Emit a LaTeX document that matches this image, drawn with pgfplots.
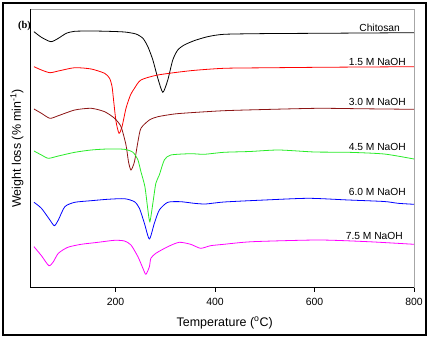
\documentclass[border=0pt]{standalone}
\usepackage{pgfplots}
\pgfplotsset{compat=1.18}
\usepackage{fontspec}
\setmainfont{Liberation Sans}
\newfontfamily\timesfont{Liberation Serif}
\definecolor{brownred}{RGB}{140,20,20}
\definecolor{lgreen}{RGB}{40,235,40}
\definecolor{mag}{RGB}{255,0,255}
\begin{document}
\begin{tikzpicture}
\begin{axis}[
  at={(0,0)}, anchor=south west,
  scale only axis, width=384bp, height=278.7bp,
  xmin=28, xmax=800, ymin=-287.7, ymax=-9,
  axis line style={draw=gray!70, line width=0.6bp},
  xtick={200,400,600,800}, ytick=\empty,
  tick align=outside, xtick pos=bottom,
  major tick length=4bp,
  tick style={black, line width=0.6bp},
  xticklabel style={font=\fontsize{10.5}{12}\selectfont, yshift=-3bp},
  /pgf/number format/assume math mode=true,
  xlabel={Temperature (\textsuperscript{o}C)},
  ylabel={Weight loss (\% min\textsuperscript{-1})},
  every axis x label/.style={at={(axis description cs:0.507,-0.127)}, anchor=center, font=\fontsize{12.5}{14}\selectfont},
  every axis y label/.style={at={(axis description cs:-0.034,0.5)}, rotate=90, anchor=center, font=\fontsize{12.5}{14}\selectfont},
  clip=false,
  every axis plot/.append style={line width=0.8bp, smooth, tension=0.4},
]
% Chitosan
\addplot[black] coordinates {
(36,-31.7)(51,-37.3)(70,-41.7)(85,-38.3)(101,-33.3)(118,-31.3)(151,-31)(184,-31.3)(218,-32)(241,-34)(255,-38.3)(265,-46.7)(275,-60)(285,-78.3)(295,-92.3)(305,-80)(315,-60)(325,-50)(338,-45)(358,-40.7)(385,-36.7)(418,-34.3)(500,-33.6)(608,-33.3)(700,-33)(800,-32.7)};
% 1.5 M
\addplot[red] coordinates {
(36,-66.7)(51,-70)(68,-72.7)(85,-71)(118,-67.7)(151,-69)(178,-73.3)(188,-78.3)(193,-86.7)(196,-100)(201,-121.7)(207,-133.3)(213,-126.7)(221,-108.3)(230,-95)(238,-88.3)(251,-80)(285,-75)(351,-70.7)(418,-68.3)(500,-67.8)(608,-67.3)(700,-67)(800,-66.7)};
% 3.0 M
\addplot[brownred] coordinates {
(36,-109)(51,-113.3)(68,-118.3)(85,-115.7)(118,-110)(151,-108.3)(178,-111.7)(198,-118.3)(211,-126.7)(221,-145)(226,-161.7)(231,-170)(238,-161.7)(245,-141.7)(251,-128.3)(268,-120)(285,-116.7)(318,-114)(351,-112.7)(418,-110.7)(500,-109.5)(608,-108.3)(700,-108.8)(800,-109.3)};
% 4.5 M
\addplot[lgreen] coordinates {
(36,-151)(51,-155)(65,-158.3)(85,-156)(118,-152.3)(151,-150)(184,-149)(218,-149.3)(235,-152.3)(245,-160)(251,-171.7)(259,-186.7)(265,-210)(269,-221.7)(275,-203.3)(281,-183.3)(288,-175)(298,-160)(311,-155)(351,-153.7)(378,-154.3)(418,-152.3)(470,-151.5)(528,-150)(600,-152)(668,-152.3)(740,-154)(800,-159)};
% 6.0 M
\addplot[blue] coordinates {
(36,-202.3)(51,-208.3)(68,-220)(77,-225.7)(85,-220)(98,-206.7)(118,-202.3)(151,-200.7)(184,-199.3)(218,-198.7)(238,-201.7)(248,-208.3)(258,-223.3)(268,-239)(278,-223.3)(288,-210)(305,-202.3)(331,-201.7)(358,-203.3)(381,-204)(418,-202)(500,-200)(588,-198.3)(668,-200)(740,-201.5)(768,-203.3)(800,-204.3)};
% 7.5 M
\addplot[mag] coordinates {
(36,-246.7)(51,-255.7)(66,-265.7)(75,-261.7)(85,-253.3)(104,-247.3)(131,-244.3)(165,-242.3)(198,-240.3)(218,-241)(231,-245)(245,-256.7)(255,-268.3)(261,-274.3)(268,-266.7)(271,-258.3)(281,-253.3)(305,-246.7)(328,-242.3)(351,-244.3)(371,-248.3)(391,-245.7)(418,-244.3)(475,-241.7)(608,-240)(708,-241.7)(800,-244.3)};
\draw[black, line width=0.8bp] (rel axis cs:0,1) -- (rel axis cs:0,0) -- (rel axis cs:1,0);
\begin{scope}[every node/.style={anchor=east, font=\fontsize{10.3}{12}\selectfont, inner sep=0pt}]
\node at (axis cs:772,-28) {Chitosan};
\node at (axis cs:784,-62) {1.5 M NaOH};
\node at (axis cs:784,-102) {3.0 M NaOH};
\node at (axis cs:784,-147) {4.5 M NaOH};
\node at (axis cs:784,-192) {6.0 M NaOH};
\node at (axis cs:778,-236) {7.5 M NaOH};
\end{scope}
\node[anchor=east, inner sep=0pt, font=\timesfont\bfseries\fontsize{10.5}{12}\selectfont] at (rel axis cs:0.003,0.939) {(b)};
\end{axis}
\draw[black, line width=1.5bp] (-27bp,-47.3bp) rectangle (396bp,284.7bp);
\path[use as bounding box] (-30bp,-50.3bp) rectangle (401bp,287.7bp);
\end{tikzpicture}
\end{document}
